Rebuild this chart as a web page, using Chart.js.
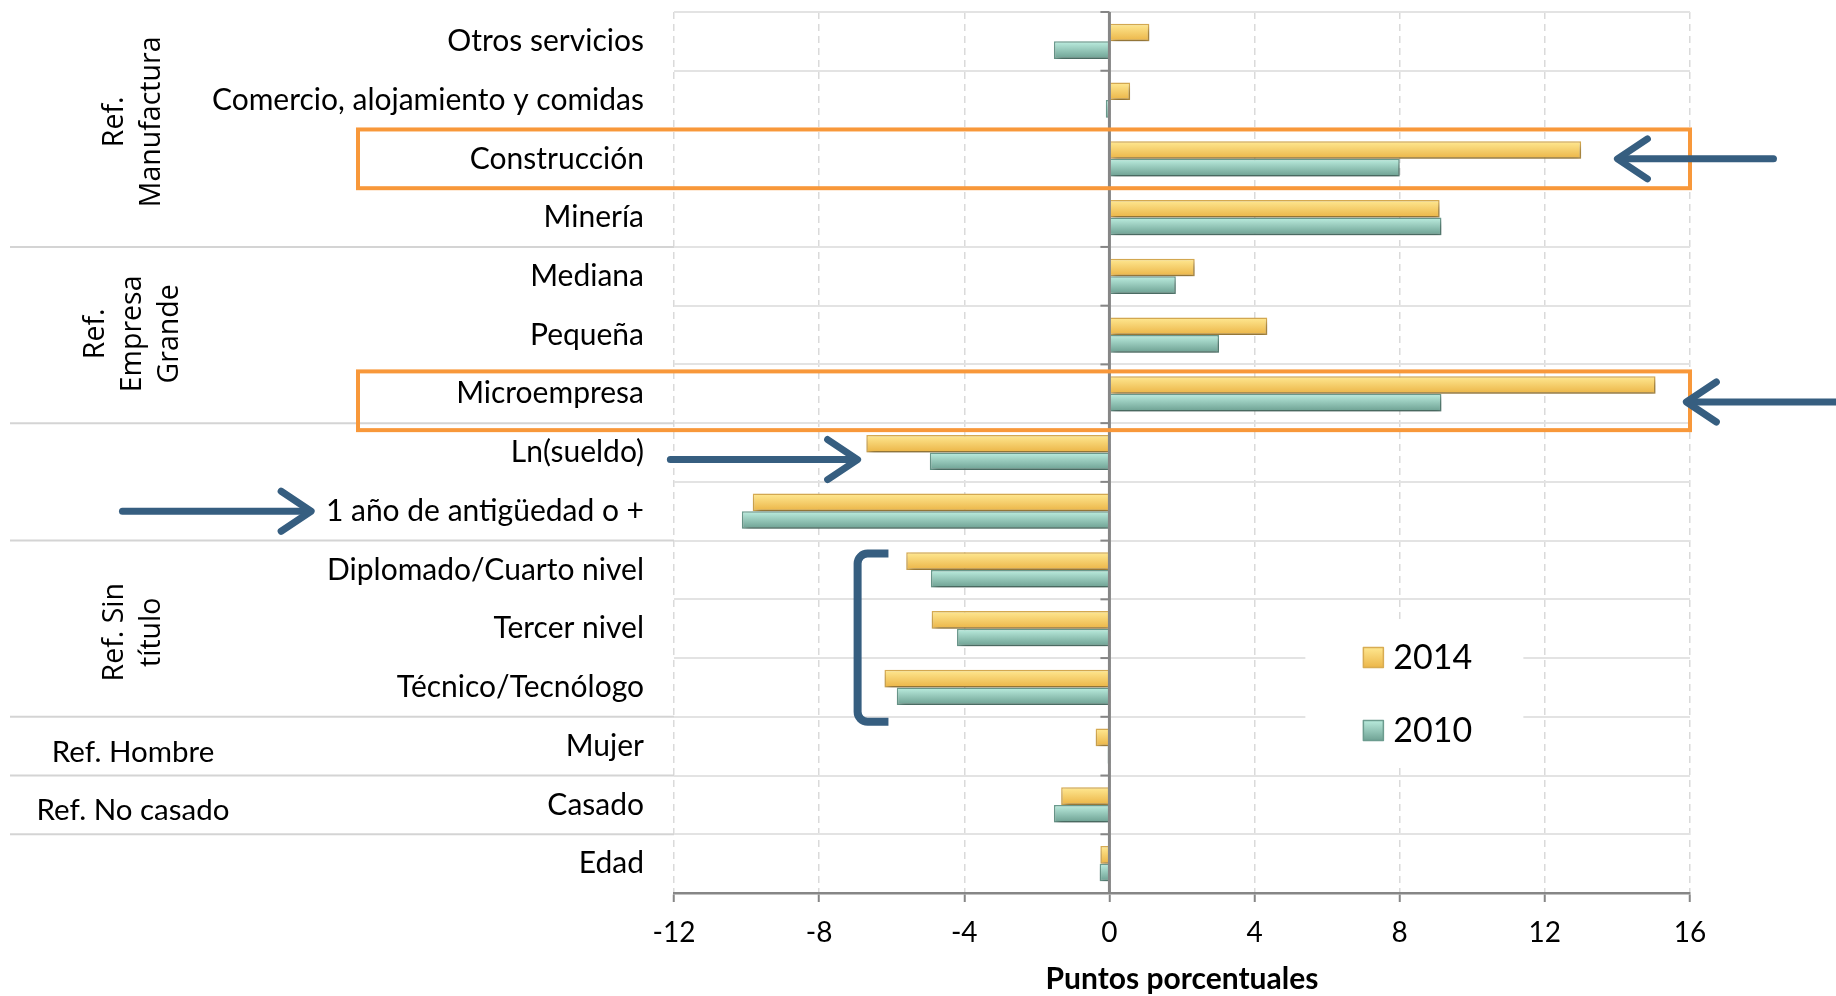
<!DOCTYPE html>
<html>
<head>
<meta charset="utf-8">
<script src="https://cdn.jsdelivr.net/npm/chart.js@4"></script>
<style>
  html, body { margin: 0; padding: 0; background: #fff; }
  #wrap { width: 1836px; height: 996px; }
</style>
</head>
<body>
<div id="wrap"><canvas id="chart" width="1836" height="996"></canvas></div>
<script>
// ---- data ----
const categories = [
  'Otros servicios', 'Comercio, alojamiento y comidas', 'Construcción', 'Minería',
  'Mediana', 'Pequeña', 'Microempresa', 'Ln(sueldo)', '1 año de antigüedad o +',
  'Diplomado/Cuarto nivel', 'Tercer nivel', 'Técnico/Tecnólogo', 'Mujer', 'Casado', 'Edad'
];
const series2014 = [1.1, 0.57, 13.0, 9.1, 2.35, 4.35, 15.05, -6.7, -9.83, -5.6, -4.9, -6.2, -0.38, -1.33, -0.25];
const series2010 = [-1.53, -0.1, 8.0, 9.15, 1.83, 3.02, 9.15, -4.95, -10.13, -4.92, -4.2, -5.86, -0.05, -1.53, -0.27];
const seriesNames = ['2014', '2010'];
const xMin = -12, xMax = 16, xStep = 4;

// group labels on the left (category position, lines)
const groupLabels = [
  { at: 1.37, lines: ['Ref.', 'Manufactura'], rotated: true },
  { at: 4.98, lines: ['Ref.', 'Empresa', 'Grande'], rotated: true },
  { at: 10.06, lines: ['Ref. Sin', 'título'], rotated: true },
  { at: 12.1, lines: ['Ref. Hombre'], rotated: false },
  { at: 13.1, lines: ['Ref. No casado'], rotated: false }
];
const groupBreaks = [3.5, 6.5, 8.5, 11.5, 12.5, 13.5];
const highlighted = [2, 6];

const palette = {
  y: { top: '#FFE993', bottom: '#EBB446', border: '#D8AC52' },
  t: { top: '#BDEEE0', bottom: '#6C9F91', border: '#6C9C8F' }
};
const CAT_PCT = 0.6;

function barFill(key) {
  return function (c) {
    const chart = c.chart;
    const p = palette[key];
    if (!chart.chartArea || c.dataIndex === undefined) return p.bottom;
    const ys = chart.scales.y;
    const band = Math.abs(ys.getPixelForValue(1) - ys.getPixelForValue(0));
    const mid = ys.getPixelForValue(c.dataIndex);
    const h = band * CAT_PCT / 2;
    const top = c.datasetIndex === 0 ? mid - h : mid;
    const g = chart.ctx.createLinearGradient(0, top, 0, top + h);
    g.addColorStop(0, p.top);
    g.addColorStop(1, p.bottom);
    return g;
  };
}

const FONT = 'Lato';
const BLUE = '#365E80';
const ORANGE = '#F8983A';

// shadows under bars
const shadowPlugin = {
  id: 'shadow',
  beforeDatasetsDraw(chart) {
    const ctx = chart.ctx;
    ctx.save();
    ctx.shadowColor = 'rgba(0,0,0,0.38)';
    ctx.shadowBlur = 6;
    ctx.shadowOffsetX = 2;
    ctx.shadowOffsetY = 4;
  },
  afterDatasetsDraw(chart) {
    chart.ctx.restore();
  }
};

function arrow(ctx, x1, y1, x2, y2) {
  const dir = Math.sign(x2 - x1);
  ctx.beginPath();
  ctx.moveTo(x1, y1);
  ctx.lineTo(x2 - dir * 4, y2);
  ctx.stroke();
  ctx.beginPath();
  ctx.moveTo(x2 - dir * 30, y2 - 20);
  ctx.lineTo(x2, y2);
  ctx.lineTo(x2 - dir * 30, y2 + 20);
  ctx.stroke();
}

const decorPlugin = {
  id: 'decor',
  afterDatasetsDraw(chart) {
    const { ctx, chartArea: a, scales: { x, y } } = chart;
    const x0 = x.getPixelForValue(0);
    ctx.save();
    // zero axis with ticks
    ctx.strokeStyle = '#868686';
    ctx.lineWidth = 3;
    ctx.beginPath();
    ctx.moveTo(x0, a.top);
    ctx.lineTo(x0, a.bottom);
    ctx.stroke();
    ctx.lineWidth = 2;
    for (let i = 0; i <= categories.length; i++) {
      const py = y.getPixelForValue(i - 0.5);
      ctx.beginPath();
      ctx.moveTo(x0 - 9, py);
      ctx.lineTo(x0, py);
      ctx.stroke();
    }
    ctx.restore();
  },
  afterDraw(chart) {
    const { ctx, chartArea: a, scales: { x, y } } = chart;
    ctx.save();
    // group separators
    ctx.strokeStyle = '#D4D4D4';
    ctx.lineWidth = 2;
    groupBreaks.forEach(b => {
      const py = y.getPixelForValue(b);
      ctx.beginPath();
      ctx.moveTo(10, py);
      ctx.lineTo(a.left, py);
      ctx.stroke();
    });
    // group labels
    ctx.fillStyle = '#000';
    ctx.textAlign = 'center';
    ctx.textBaseline = 'middle';
    const cx = 133;
    groupLabels.forEach(g => {
      const py = y.getPixelForValue(g.at);
      if (g.rotated) {
        ctx.font = '28.5px "Open Sans"';
        const lh = 37;
        ctx.save();
        ctx.translate(cx, py);
        ctx.rotate(-Math.PI / 2);
        g.lines.forEach((t, k) => {
          ctx.fillText(t, 0, (k - (g.lines.length - 1) / 2) * lh);
        });
        ctx.restore();
      } else {
        ctx.font = '29.5px ' + FONT;
        ctx.fillText(g.lines[0], cx, py);
      }
    });
    // highlight boxes
    ctx.strokeStyle = ORANGE;
    ctx.lineWidth = 4;
    highlighted.forEach((i, k) => {
      const shift = k === 1 ? 7 : 0;
      const t = y.getPixelForValue(i - 0.5) + shift;
      ctx.strokeRect(a.left - 316, t, x.getPixelForValue(xMax) - a.left + 316, y.getPixelForValue(i + 0.5) - y.getPixelForValue(i - 0.5));
    });
    // arrows
    ctx.strokeStyle = BLUE;
    ctx.lineWidth = 7;
    ctx.lineCap = 'round';
    ctx.lineJoin = 'round';
    [[2, 18.3, 14.0], [6.14, 20.4, 15.9], [7.12, -12.1, -6.94], [8, -27.2, -22.0]].forEach(([c, f, t]) => {
      const py = y.getPixelForValue(c);
      arrow(ctx, x.getPixelForValue(f), py, x.getPixelForValue(t), py);
    });
    // bracket
    ctx.lineWidth = 8;
    ctx.lineCap = 'butt';
    const bl = x.getPixelForValue(-6.94), br = x.getPixelForValue(-6.09);
    const bt = y.getPixelForValue(8.5) + 13, bb = y.getPixelForValue(11.5) + 5;
    ctx.beginPath();
    ctx.moveTo(br, bt);
    ctx.arcTo(bl, bt, bl, bb, 10);
    ctx.arcTo(bl, bb, br, bb, 10);
    ctx.lineTo(br, bb);
    ctx.stroke();
    // legend
    const lx = x.getPixelForValue(5.4), ly = y.getPixelForValue(9.86);
    ctx.fillStyle = '#fff';
    ctx.fillRect(lx, ly, 218, 147);
    chart.data.datasets.forEach((ds, k) => {
      const p = palette[k === 0 ? 'y' : 't'];
      const cy = ly + 37 + k * 73;
      const g = ctx.createLinearGradient(0, cy - 11, 0, cy + 11);
      g.addColorStop(0, p.top);
      g.addColorStop(1, p.bottom);
      ctx.fillStyle = g;
      ctx.fillRect(lx + 58, cy - 10, 20, 20);
      ctx.strokeStyle = p.border;
      ctx.lineWidth = 1.5;
      ctx.strokeRect(lx + 58, cy - 10, 20, 20);
      ctx.fillStyle = '#000';
      ctx.font = '34px ' + FONT;
      ctx.textAlign = 'left';
      ctx.fillText(ds.label, lx + 88, cy + 1);
    });
    ctx.restore();
  }
};

new Chart(document.getElementById('chart'), {
  type: 'bar',
  data: {
    labels: categories,
    datasets: [
      { label: seriesNames[0], data: series2014, backgroundColor: barFill('y'), borderColor: palette.y.border, borderWidth: 1.5 },
      { label: seriesNames[1], data: series2010, backgroundColor: barFill('t'), borderColor: palette.t.border, borderWidth: 1.5 }
    ]
  },
  options: {
    indexAxis: 'y',
    responsive: false,
    animation: false,
    layout: { padding: { left: 0, right: 146, top: 12, bottom: 0 } },
    datasets: { bar: { categoryPercentage: CAT_PCT, barPercentage: 1 } },
    plugins: { legend: { display: false }, tooltip: { enabled: false } },
    scales: {
      x: {
        min: xMin, max: xMax,
        ticks: { stepSize: xStep, color: '#000', font: { family: FONT, size: 28 }, padding: 14 },
        grid: { color: '#DADADA', lineWidth: 1.5, tickLength: 9, tickColor: '#868686', tickWidth: 2 },
        border: { color: '#868686', width: 2.5, dash: [7, 5] },
        title: { display: true, text: 'Puntos porcentuales', color: '#000', font: { family: FONT, size: 30, weight: 'bold', lineHeight: 1 }, padding: { top: 0, bottom: 2 } },
        afterFit(s) { s.height = 103; s.paddingLeft = 0; s.paddingRight = 0; }
      },
      y: {
        ticks: { color: '#000', font: { family: FONT, size: 30 }, padding: 30 },
        grid: { color: '#E3E3E3', lineWidth: 2, drawTicks: false },
        border: { display: false },
        afterFit(s) { s.width = 674; s.paddingTop = 0; s.paddingBottom = 0; }
      }
    }
  },
  plugins: [shadowPlugin, decorPlugin]
});
</script>
</body>
</html>
